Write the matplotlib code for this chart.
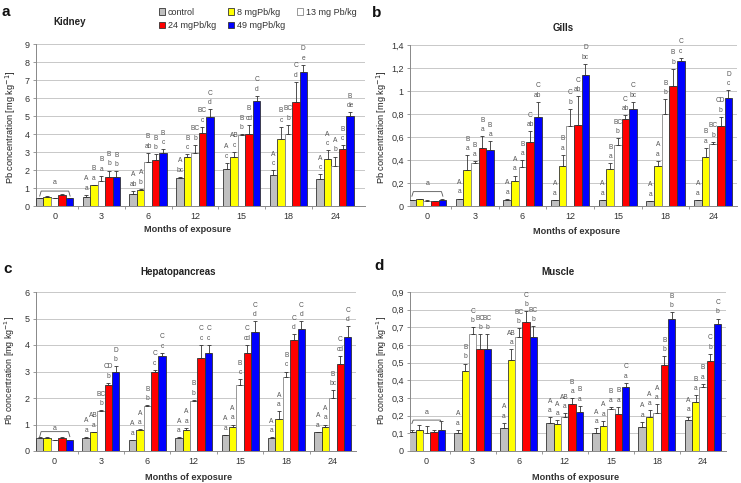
import matplotlib
matplotlib.use("Agg")
import matplotlib.pyplot as plt
import numpy as np

plt.rcParams['font.family'] = ['Liberation Sans', 'DejaVu Sans']

months = ['0', '3', '6', '12', '15', '18', '24']
series = ['control', '8 mgPb/kg', '13 mg Pb/kg', '24 mgPb/kg', '49 mgPb/kg']
colors = ['#C0C0C0', '#FFFF00', '#FFFFFF', '#FF0000', '#0000FF']

# ---------------- Kidney ----------------
kid_ctrl = [0.42, 0.48, 0.65, 1.55, 2.05, 1.75, 1.48]
kid_8 = [0.50, 1.15, 0.90, 2.72, 2.72, 3.75, 2.60]
kid_13 = [0.45, 1.38, 2.45, 2.95, 3.92, 4.00, 2.20]
kid_24 = [0.60, 1.62, 2.58, 4.05, 4.02, 5.80, 3.18]
kid_49 = [0.42, 1.62, 2.92, 4.92, 5.82, 7.45, 5.00]
kid_err_ctrl = [0.02, 0.15, 0.20, 0.08, 0.35, 0.25, 0.28]
kid_err_8 = [0.03, 0.03, 0.05, 0.15, 0.30, 0.65, 0.50]
kid_err_13 = [0.02, 0.30, 0.50, 0.45, 0.08, 0.50, 0.55]
kid_err_24 = [0.04, 0.35, 0.30, 0.35, 0.48, 1.10, 0.20]
kid_err_49 = [0.03, 0.30, 0.22, 0.45, 0.30, 0.40, 0.22]
kid_lab_ctrl = ['', 'A a', 'A ab', 'A bc', 'A c', 'A c', 'A c']
kid_lab_8 = ['', 'B a', 'A b', 'B c', 'AB c', 'B c', 'A c']
kid_lab_13 = ['', 'B a', 'B ab', 'BC b', 'B b', 'BC b', 'A b']
kid_lab_24 = ['', 'B b', 'B b', 'BC c', 'B cd', 'C d', 'B c']
kid_lab_49 = ['', 'B b', 'B c', 'C d', 'C d', 'D e', 'B de']

# ---------------- Gills ----------------
gil_ctrl = [0.05, 0.06, 0.055, 0.05, 0.05, 0.04, 0.05]
gil_8 = [0.06, 0.31, 0.215, 0.345, 0.32, 0.345, 0.425]
gil_13 = [0.045, 0.375, 0.34, 0.695, 0.53, 0.80, 0.535]
gil_24 = [0.04, 0.505, 0.56, 0.705, 0.76, 1.045, 0.70]
gil_49 = [0.055, 0.49, 0.77, 1.135, 0.845, 1.26, 0.935]
gil_err_ctrl = [0.005, 0.005, 0.008, 0.005, 0.005, 0.005, 0.005]
gil_err_8 = [0.003, 0.13, 0.05, 0.10, 0.05, 0.05, 0.08]
gil_err_13 = [0.003, 0.015, 0.06, 0.15, 0.06, 0.13, 0.025]
gil_err_24 = [0.005, 0.10, 0.09, 0.25, 0.03, 0.15, 0.075]
gil_err_49 = [0.003, 0.075, 0.135, 0.10, 0.06, 0.03, 0.07]
gil_lab_ctrl = ['', 'A a', 'A a', 'A a', 'A a', 'A a', 'A a']
gil_lab_8 = ['', 'B a', 'A a', 'B a', 'B a', 'A a', 'B a']
gil_lab_13 = ['', 'B a', 'B a', 'C b', 'BC b', 'B b', 'BC b']
gil_lab_24 = ['', 'B a', 'C ab', 'C ab', 'C ab', 'B b', 'CD b']
gil_lab_49 = ['', 'B a', 'C ab', 'D bc', 'C bc', 'C c', 'D c']

# ---------------- Hepatopancreas ----------------
hep_ctrl = [0.5, 0.5, 0.4, 0.5, 0.6, 0.5, 0.7]
hep_8 = [0.5, 0.7, 0.8, 0.8, 0.9, 1.2, 0.9]
hep_13 = [0.4, 1.5, 1.7, 1.9, 2.5, 2.8, 2.0]
hep_24 = [0.5, 2.5, 3.0, 3.5, 3.7, 4.2, 3.3]
hep_49 = [0.4, 3.0, 3.6, 3.7, 4.5, 4.6, 4.3]
hep_err_ctrl = [0.01, 0.03, 0.02, 0.01, 0.01, 0.01, 0.02]
hep_err_8 = [0.01, 0.03, 0.03, 0.07, 0.10, 0.30, 0.10]
hep_err_13 = [0.01, 0.03, 0.02, 0.03, 0.20, 0.20, 0.30]
hep_err_24 = [0.03, 0.08, 0.07, 0.50, 0.30, 0.20, 0.30]
hep_err_49 = [0.01, 0.20, 0.10, 0.30, 0.40, 0.30, 0.40]
hep_lab_ctrl = ['', 'A a', 'A a', 'A a', 'A a', 'A a', 'A a']
hep_lab_8 = ['', 'AB a', 'A a', 'A a', 'A a', 'A a', 'A a']
hep_lab_13 = ['', 'BC b', 'B b', 'B b', 'B c', 'B c', 'B bc']
hep_lab_24 = ['', 'CD b', 'C c', 'C c', 'C cd', 'C d', 'C cd']
hep_lab_49 = ['', 'D b', 'C c', 'C c', 'C d', 'C d', 'C d']

# ---------------- Muscle ----------------
mus_ctrl = [0.11, 0.10, 0.13, 0.16, 0.10, 0.135, 0.175]
mus_8 = [0.12, 0.455, 0.515, 0.155, 0.14, 0.19, 0.275]
mus_13 = [0.10, 0.66, 0.645, 0.195, 0.238, 0.215, 0.36]
mus_24 = [0.11, 0.58, 0.73, 0.265, 0.21, 0.485, 0.51]
mus_49 = [0.12, 0.58, 0.645, 0.222, 0.365, 0.745, 0.72]
mus_err_ctrl = [0.01, 0.02, 0.03, 0.03, 0.03, 0.03, 0.02]
mus_err_8 = [0.03, 0.04, 0.06, 0.02, 0.03, 0.04, 0.04]
mus_err_13 = [0.04, 0.04, 0.05, 0.02, 0.01, 0.05, 0.02]
mus_err_24 = [0.01, 0.08, 0.06, 0.035, 0.04, 0.05, 0.04]
mus_err_49 = [0.05, 0.08, 0.06, 0.035, 0.02, 0.04, 0.03]
mus_lab_ctrl = ['', 'A a', 'A a', 'A a', 'A a', 'A a', 'A a']
mus_lab_8 = ['', 'B b', 'AB a', 'A a', 'A a', 'A a', 'B a']
mus_lab_13 = ['', 'C b', 'BC b', 'AB a', 'B a', 'A a', 'B a']
mus_lab_24 = ['', 'BC b', 'C b', 'B a', 'B a', 'B b', 'C b']
mus_lab_49 = ['', 'BC b', 'BC b', 'B a', 'C a', 'B b', 'C b']

kid_ticks = [0, 1, 2, 3, 4, 5, 6, 7, 8, 9]
kid_ticklabels = ['0', '1', '2', '3', '4', '5', '6', '7', '8', '9']
gil_ticks = [0, 0.2, 0.4, 0.6, 0.8, 1.0, 1.2, 1.4]
gil_ticklabels = ['0', '0,2', '0,4', '0,6', '0,8', '1', '1,2', '1,4']
hep_ticks = [0, 1, 2, 3, 4, 5, 6]
hep_ticklabels = ['0', '1', '2', '3', '4', '5', '6']
mus_ticks = [0, 0.1, 0.2, 0.3, 0.4, 0.5, 0.6, 0.7, 0.8, 0.9]
mus_ticklabels = ['0', '0,1', '0,2', '0,3', '0,4', '0,5', '0,6', '0,7', '0,8', '0,9']

W, H = 741, 483
fig = plt.figure(figsize=(W / 100, H / 100), dpi=100)


def px_axes(l, r, t, b):
    return fig.add_axes([l / W, 1 - b / H, (r - l) / W, (b - t) / H])


TXT = '#555555'
bw = 0.16


def draw(ax, vals, errs, labs, ticks, ticklabels, xlim, bracket, title, letter,
         title_xy, letter_xy, xlabel_xy, ylabel_xy, ylab_fs):
    x = np.arange(len(months))
    bars = []
    for i, (v, e, lb) in enumerate(zip(vals, errs, labs)):
        pos = x + (i - 2) * bw
        edge = '#888888' if i == 2 else '#333333'
        b = ax.bar(pos, v, bw, color=colors[i], edgecolor=edge, linewidth=0.6,
                   zorder=3, label=series[i])
        bars.append(b)
        ax.errorbar(pos, v, yerr=[np.zeros(len(v)), e], fmt='none',
                    ecolor='#333333', elinewidth=0.6, capsize=1.4,
                    capthick=0.6, zorder=4)
        for xp, vv, ee, s in zip(pos, v, e, lb):
            if not s:
                continue
            up, lo = s.split(' ')
            ax.annotate(lo, (xp, vv + ee), xytext=(0, 2.2),
                        textcoords='offset points', ha='center', va='bottom',
                        fontsize=4.8, color=TXT, zorder=5)
            ax.annotate(up, (xp, vv + ee), xytext=(0, 9.0),
                        textcoords='offset points', ha='center', va='bottom',
                        fontsize=4.8, color=TXT, zorder=5)
    # bracket on month 0
    ytop, yend, ylab = bracket
    x0, x1 = -0.32, 0.33
    ax.plot([x0, x0 + 0.03, x1 - 0.03, x1], [yend, ytop, ytop, yend],
            color='#555555', lw=0.6, zorder=5)
    ax.text((x0 + x1) / 2, ylab, 'a', ha='center', va='center', fontsize=5,
            color=TXT)

    ax.set_ylim(ticks[0], ticks[-1])
    ax.set_yticks(ticks)
    ax.set_yticklabels(ticklabels)
    ax.set_xlim(*xlim)
    ax.set_xticks(x)
    ax.set_xticklabels(months)
    ax.set_xticks(np.arange(len(months) - 1) + 0.5, minor=True)
    ax.tick_params(axis='x', which='major', length=0, labelsize=6.5,
                   labelcolor='#333333', pad=4)
    ax.tick_params(axis='x', which='minor', length=2.5, width=0.6,
                   color='#888888')
    ax.tick_params(axis='y', length=2.5, width=0.6, color='#888888',
                   labelsize=6.5, labelcolor='#333333', pad=2)
    ax.grid(axis='y', color='#C8C8C8', lw=0.7, zorder=0)
    ax.set_axisbelow(True)
    for s in ('top', 'right'):
        ax.spines[s].set_visible(False)
    for s in ('left', 'bottom'):
        ax.spines[s].set_color('#888888')
        ax.spines[s].set_linewidth(0.7)

    fig.text(title_xy[0] / W, 1 - title_xy[1] / H, title, ha='center',
             va='center', fontsize=7, fontweight='bold', color='#222222')
    fig.text(letter_xy[0] / W, 1 - letter_xy[1] / H, letter, ha='left',
             va='center', fontsize=11, fontweight='bold', color='#111111')
    fig.text(xlabel_xy[0] / W, 1 - xlabel_xy[1] / H, 'Months of exposure',
             ha='center', va='center', fontsize=6.6, fontweight='bold',
             color='#333333')
    fig.text(ylabel_xy[0] / W, 1 - ylabel_xy[1] / H,
             'Pb concentration [mg kg$^{-1}$]', ha='center', va='center',
             rotation=90, fontsize=ylab_fs, color='#222222')
    return bars


axa = px_axes(36, 365, 44, 206)
bars = draw(axa, [kid_ctrl, kid_8, kid_13, kid_24, kid_49],
            [kid_err_ctrl, kid_err_8, kid_err_13, kid_err_24, kid_err_49],
            [kid_lab_ctrl, kid_lab_8, kid_lab_13, kid_lab_24, kid_lab_49],
            kid_ticks, kid_ticklabels, (-0.4, 6.64), (0.83, 0.55, 1.3),
            'Kidney', 'a', (70, 22), (2, 12), (188, 230), (11, 127), 6.7)

axb = px_axes(410, 737, 45, 206)
draw(axb, [gil_ctrl, gil_8, gil_13, gil_24, gil_49],
     [gil_err_ctrl, gil_err_8, gil_err_13, gil_err_24, gil_err_49],
     [gil_lab_ctrl, gil_lab_8, gil_lab_13, gil_lab_24, gil_lab_49],
     gil_ticks, gil_ticklabels, (-0.36, 6.5), (0.125, 0.085, 0.195),
     'Gills', 'b', (563, 28), (372, 13), (577, 231), (382, 127), 6.7)

axc = px_axes(36, 356, 292, 451)
draw(axc, [hep_ctrl, hep_8, hep_13, hep_24, hep_49],
     [hep_err_ctrl, hep_err_8, hep_err_13, hep_err_24, hep_err_49],
     [hep_lab_ctrl, hep_lab_8, hep_lab_13, hep_lab_24, hep_lab_49],
     hep_ticks, hep_ticklabels, (-0.4, 6.5), (0.73, 0.54, 0.86),
     'Hepatopancreas', 'c', (178, 272), (3, 269), (189, 478), (10, 370), 6.4)

axd = px_axes(410, 726, 292, 451)
draw(axd, [mus_ctrl, mus_8, mus_13, mus_24, mus_49],
     [mus_err_ctrl, mus_err_8, mus_err_13, mus_err_24, mus_err_49],
     [mus_lab_ctrl, mus_lab_8, mus_lab_13, mus_lab_24, mus_lab_49],
     mus_ticks, mus_ticklabels, (-0.36, 6.5), (0.175, 0.155, 0.216),
     'Muscle', 'd', (558, 272), (374, 266), (576, 477), (382, 370), 6.4)

# legend (column-major order so that row 1: control, 8, 13; row 2: 24, 49)
order = [0, 3, 1, 4, 2]
handles = [bars[i] for i in order]
labels = [series[i] for i in order]
leg = fig.legend(handles, labels, ncol=3, loc='upper left',
                 bbox_to_anchor=(157 / W, 1 - 6 / H), frameon=False,
                 fontsize=6.5, handlelength=0.7, handleheight=0.7,
                 handletextpad=0.3, columnspacing=1.3, labelspacing=0.5,
                 borderpad=0.2, borderaxespad=0)
for t in leg.get_texts():
    t.set_color('#333333')

fig.savefig('out.png', dpi=100)
